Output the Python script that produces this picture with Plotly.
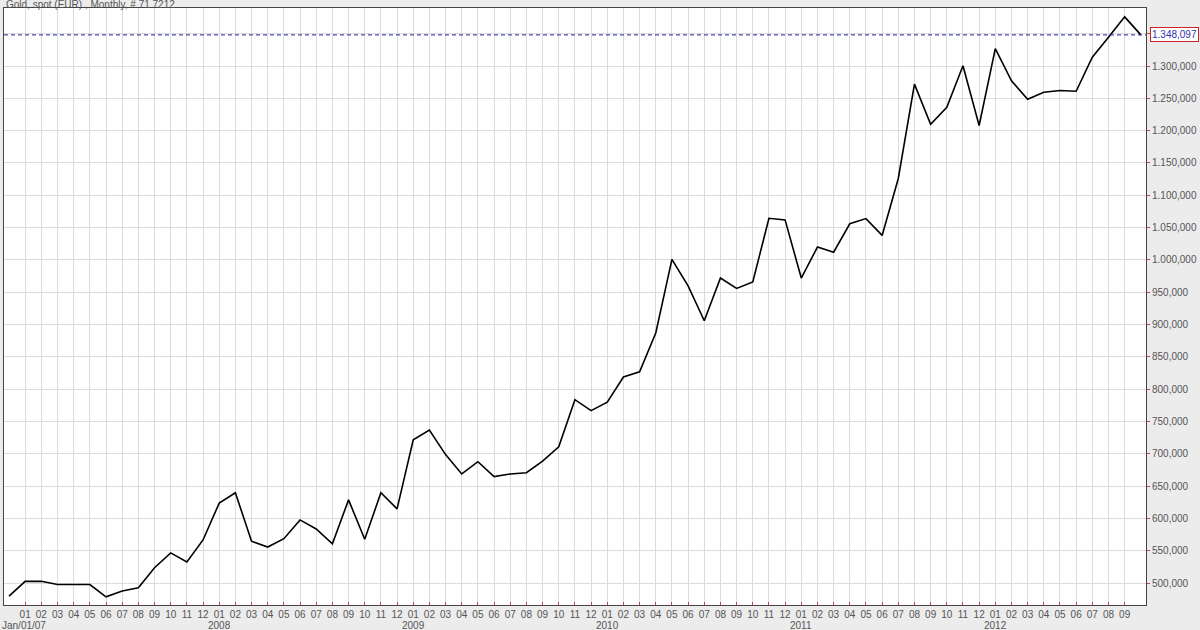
import plotly.graph_objects as go

# Monthly gold price in EUR (index 0 = starting bar, Jan/01/07)
values = [480000, 503000, 503000, 498000, 498000, 498000, 479000, 488000, 493000, 524000,
          547000, 533000, 567000, 624000, 640000, 565000, 556000, 569000, 598000, 584000,
          561000, 629000, 568000, 640000, 615000, 722000, 737000, 699000, 669000, 688000,
          665000, 669000, 671000, 689000, 711000, 784000, 767000, 780000, 819000, 827000,
          887000, 1001000, 960000, 906000, 972000, 956000, 966000, 1064500, 1062000, 972000,
          1020000, 1012000, 1056000, 1064000, 1038000, 1126000, 1272000, 1210000, 1236000, 1300500,
          1208000, 1327000, 1277000, 1248500, 1259500, 1262000, 1261000, 1313500, 1344500, 1376000,
          1348097]

month_labels = ["01", "02", "03", "04", "05", "06", "07", "08", "09", "10", "11", "12"]
year_labels = ["Jan/01/07", "2008", "2009", "2010", "2011", "2012"]
title_text = "Gold, spot (EUR) , Monthly, # 71 7212"

last_value = values[-1]
FONT = "Liberation Sans, Arial, sans-serif"


def fmt(v):
    v = int(round(v))
    if v >= 1000000:
        m = v // 1000000
        t = (v % 1000000) // 1000
        u = v % 1000
        return f"{m}.{t:03d},{u:03d}"
    return f"{v // 1000},{v % 1000:03d}"


x_pos = list(range(len(values)))
tick_pos = list(range(1, len(values) - 1))
tick_txt = [month_labels[(p - 1) % 12] for p in tick_pos]

y_ticks = list(range(500000, 1350001, 50000))
y_txt = [fmt(v) if v <= 1300000 else "" for v in y_ticks]

fig = go.Figure()
fig.add_trace(go.Scatter(x=x_pos, y=values, mode="lines",
                         line=dict(color="#000000", width=1.6),
                         hoverinfo="skip", showlegend=False))

fig.add_shape(type="line", xref="paper", x0=0, x1=1, yref="y",
              y0=last_value, y1=last_value,
              line=dict(color="#1c1ca0", width=1, dash="4px,3px"))

ann = []
ann.append(dict(xref="paper", x=1, yref="y", y=last_value, xanchor="left", yanchor="middle",
                xshift=4, text=fmt(last_value), showarrow=False,
                font=dict(family=FONT, size=10, color="#3030b0"),
                bordercolor="#d02020", borderwidth=1, borderpad=1, bgcolor="#ffffff"))
ann.append(dict(xref="paper", x=0, yref="paper", y=1, xanchor="left", yanchor="bottom",
                yshift=-4, text=title_text, showarrow=False,
                font=dict(family=FONT, size=10, color="#555555")))

# year labels: first under the start, following under each January
year_x = [None] + [1 + 12 * k for k in range(1, 6)]
for i, lab in enumerate(year_labels):
    if i == 0:
        ann.append(dict(xref="paper", x=0, yref="paper", y=0, xanchor="left", yanchor="top",
                        xshift=-4, yshift=-13, text=lab, showarrow=False,
                        font=dict(family=FONT, size=10, color="#555555")))
    else:
        ann.append(dict(xref="x", x=year_x[i], yref="paper", y=0, xanchor="center", yanchor="top",
                        yshift=-13, text=lab, showarrow=False,
                        font=dict(family=FONT, size=10, color="#555555")))

fig.update_layout(
    width=1200, height=630,
    margin=dict(l=3, r=53, t=8, b=25),
    paper_bgcolor="#ececec", plot_bgcolor="#ffffff",
    annotations=ann,
    showlegend=False,
)
fig.update_xaxes(range=[-0.31, 70.32], tickmode="array", tickvals=tick_pos, ticktext=tick_txt,
                 showgrid=True, gridcolor="#dcdcdc", gridwidth=1,
                 ticks="inside", ticklen=3, tickcolor="#cc4444",
                 tickfont=dict(family=FONT, size=10, color="#555555"),
                 ticklabelstandoff=0,
                 showline=True, linecolor="#444444", linewidth=1, mirror=True,
                 zeroline=False, tickangle=0)
fig.update_yaxes(range=[466400, 1389700], side="right", tickmode="array",
                 tickvals=y_ticks, ticktext=y_txt,
                 showgrid=True, gridcolor="#dcdcdc", gridwidth=1,
                 ticks="outside", ticklen=3, tickcolor="#cc4444",
                 tickfont=dict(family=FONT, size=10, color="#555555"),
                 showline=True, linecolor="#444444", linewidth=1, mirror=True,
                 zeroline=False)

fig.write_html("out.html", config={"displayModeBar": False},
               post_script="document.body.style.margin='0';document.body.style.overflow='hidden';")
